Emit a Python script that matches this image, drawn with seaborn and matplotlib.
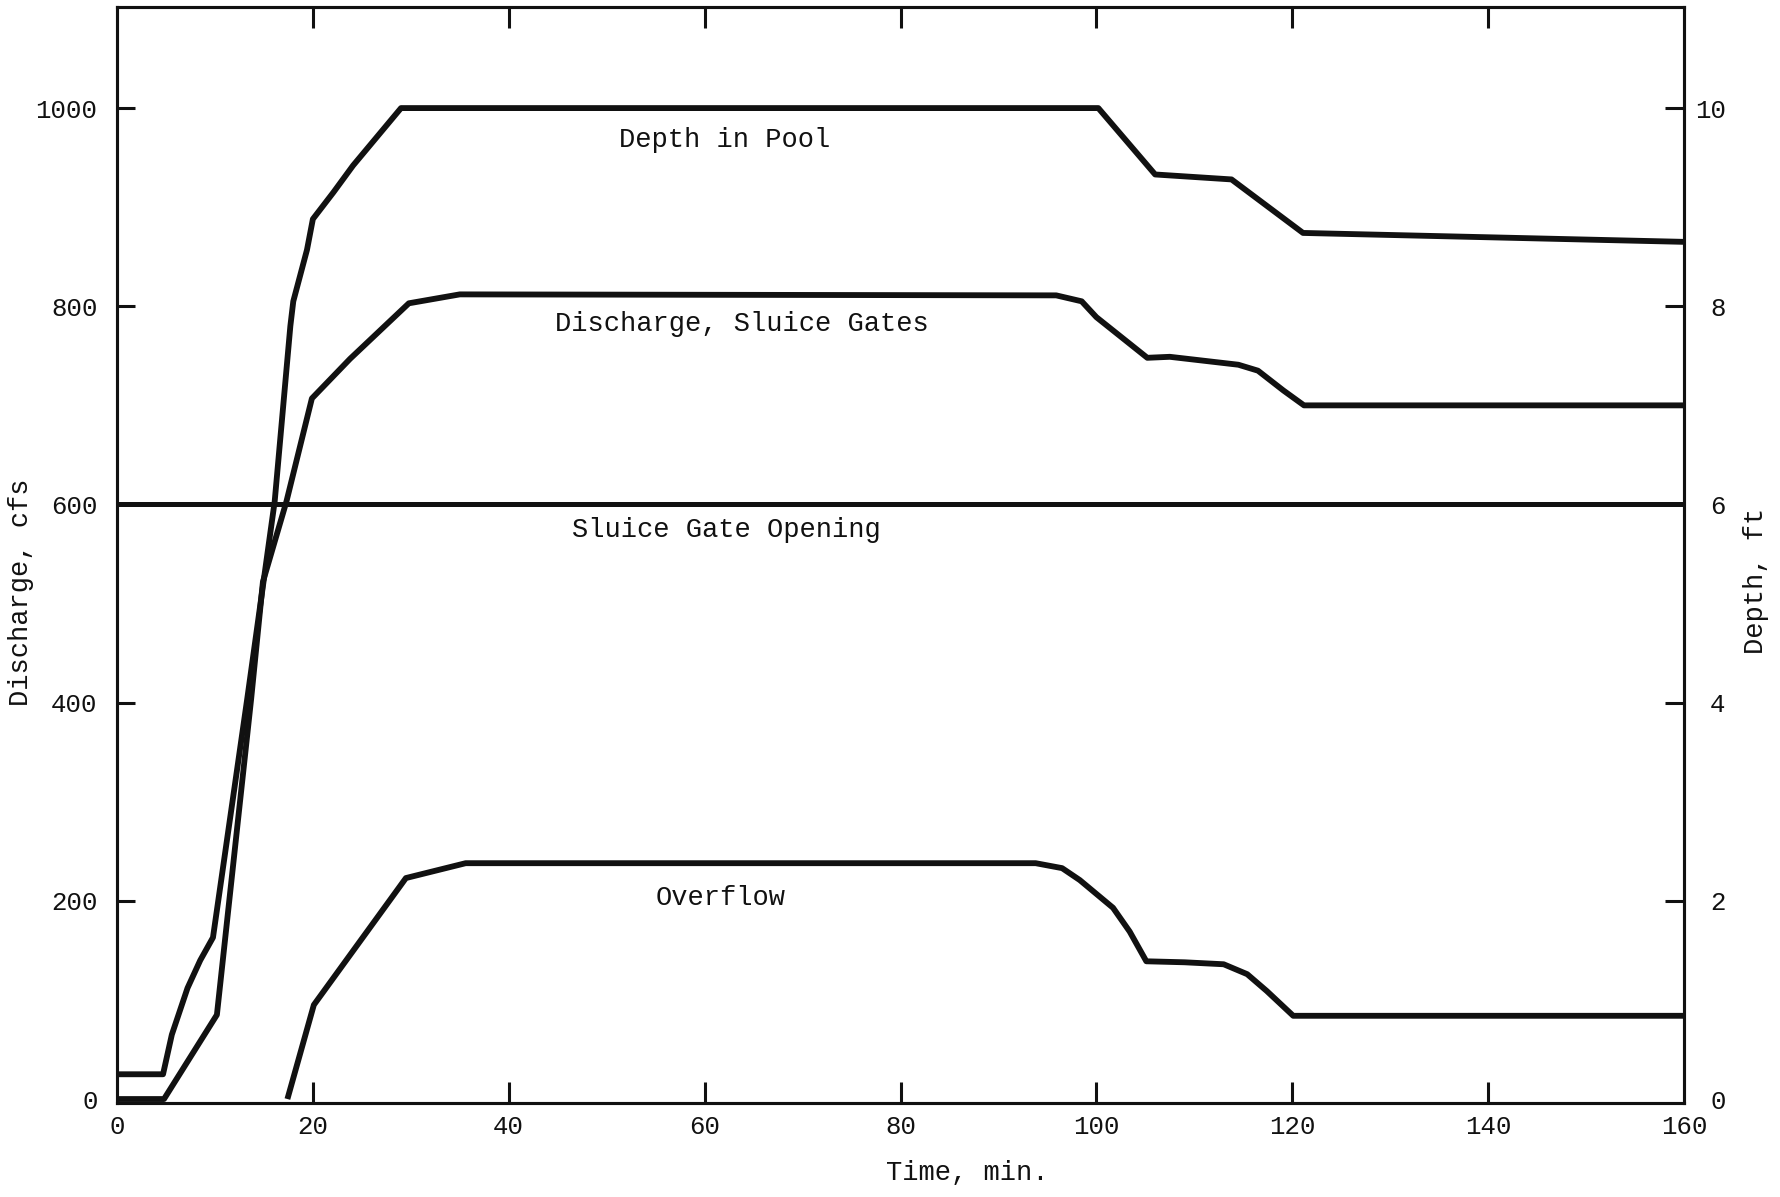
import matplotlib
matplotlib.use("Agg")
import matplotlib.pyplot as plt
import seaborn as sns

# Time axis ticks (minutes)
time_ticks = [0, 20, 40, 60, 80, 100, 120, 140, 160]
discharge_ticks = [0, 200, 400, 600, 800, 1000]
depth_ticks = [0, 2, 4, 6, 8, 10]

# Depth in pool (ft), right axis
depth_time = [0, 4.7, 5.6, 7.2, 8.5, 9.8, 13.3, 16.1, 17.7, 18.0, 19.4, 20.0,
              22.1, 24.1, 29.0, 100.2, 106.0, 113.8, 121.1, 160]
depth_ft = [0.25, 0.25, 0.65, 1.12, 1.40, 1.63, 4.04, 6.03, 7.80, 8.05, 8.57, 8.88,
            9.15, 9.42, 10.0, 10.0, 9.33, 9.28, 8.74, 8.65]

# Discharge through the sluice gates (cfs), left axis
sluice_time = [0, 4.8, 10.2, 13.7, 14.9, 17.3, 19.9, 23.8, 29.8, 35.0, 95.9, 98.5,
               100.0, 105.2, 107.5, 114.5, 116.5, 119.1, 121.2, 160]
sluice_cfs = [0, 0, 85, 404, 522, 603, 707, 747, 803, 812, 811, 805,
              789, 748, 749, 741, 735, 715, 700, 700]

# Overflow discharge (cfs), left axis
overflow_time = [17.4, 20.1, 29.5, 35.6, 93.8, 96.5, 98.3, 101.7, 103.4, 105.1,
                 109.0, 113.0, 115.4, 117.4, 120.1, 160]
overflow_cfs = [0, 95, 223, 238, 238, 233, 221, 193, 169, 139,
                138, 136, 126, 109, 84, 84]

# Sluice gate opening (ft), right axis
gate_time = [0, 160]
gate_ft = [6.0, 6.0]

sns.set_theme(style="white")
plt.rcParams["font.family"] = ["Liberation Mono", "DejaVu Sans"]
plt.rcParams["text.color"] = "#111111"

INK = "#111111"
LW = 4.2
TICK_FS = 18.5
LABEL_FS = 19.5

fig = plt.figure(figsize=(17.81, 11.97), dpi=100)
ax = fig.add_axes([117 / 1781, 1 - 1103 / 1197, (1684 - 117) / 1781, (1103 - 7) / 1197])
ax2 = ax.twinx()

line_kw = dict(sort=False, estimator=None, color=INK, linewidth=LW)
sns.lineplot(x=sluice_time, y=sluice_cfs, ax=ax, **line_kw)
sns.lineplot(x=overflow_time, y=overflow_cfs, ax=ax, **line_kw)
sns.lineplot(x=depth_time, y=depth_ft, ax=ax2, **line_kw)
sns.lineplot(x=gate_time, y=gate_ft, ax=ax2, sort=False, estimator=None,
             color=INK, linewidth=3.6)

for a in (ax, ax2):
    for ln in a.get_lines():
        ln.set_solid_joinstyle("round")
        ln.set_solid_capstyle("butt")

ax.set_xlim(0, 160)
ax.set_ylim(-4, 1102)
ax2.set_ylim(-0.04, 11.02)

ax.set_xticks(time_ticks)
ax.set_yticks(discharge_ticks)
ax2.set_yticks(depth_ticks)
ax.set_xticklabels([str(t) for t in time_ticks])
ax.set_yticklabels([str(t) for t in discharge_ticks])
ax2.set_yticklabels([str(t) for t in depth_ticks])

ax.tick_params(axis="x", direction="in", length=15, width=2.2, top=True, bottom=True,
               labelsize=TICK_FS, pad=9, colors=INK)
ax.tick_params(axis="y", direction="in", length=13, width=2.2, left=True, right=False,
               labelsize=TICK_FS, pad=14, colors=INK)
ax2.tick_params(axis="y", direction="in", length=14, width=2.2, left=False, right=True,
                labelsize=TICK_FS, pad=30, colors=INK)
for lbl in ax2.get_yticklabels():
    lbl.set_horizontalalignment("right")

# tick marks at the frame corners sit on the spines; drop them
xt = ax.xaxis.get_major_ticks()
for t in (xt[0], xt[-1]):
    t.tick1line.set_visible(False)
    t.tick2line.set_visible(False)
ax.yaxis.get_major_ticks()[0].tick1line.set_visible(False)
ax2.yaxis.get_major_ticks()[0].tick2line.set_visible(False)

for a in (ax, ax2):
    for sp in a.spines.values():
        sp.set_linewidth(2.2)
        sp.set_color(INK)
        sp.set_visible(True)
ax.grid(False)
ax2.grid(False)

ax.set_xlabel("Time, min.", fontsize=LABEL_FS, color=INK)
ax.xaxis.set_label_coords(0.5425, -0.052)
ax.set_ylabel("Discharge, cfs", fontsize=LABEL_FS, color=INK)
ax.yaxis.set_label_coords(-0.053, 0.466)
ax2.set_ylabel("Depth, ft", fontsize=LABEL_FS, color=INK)
ax2.yaxis.set_label_coords(1.0377, 0.476)

ax.text(62.0, 968, "Depth in Pool", ha="center", va="center", fontsize=LABEL_FS, color=INK)
ax.text(63.8, 782, "Discharge, Sluice Gates", ha="center", va="center", fontsize=LABEL_FS, color=INK)
ax.text(62.2, 574, "Sluice Gate Opening", ha="center", va="center", fontsize=LABEL_FS, color=INK)
ax.text(61.6, 203, "Overflow", ha="center", va="center", fontsize=LABEL_FS, color=INK)

fig.savefig("out.png", dpi=100, facecolor="white")
